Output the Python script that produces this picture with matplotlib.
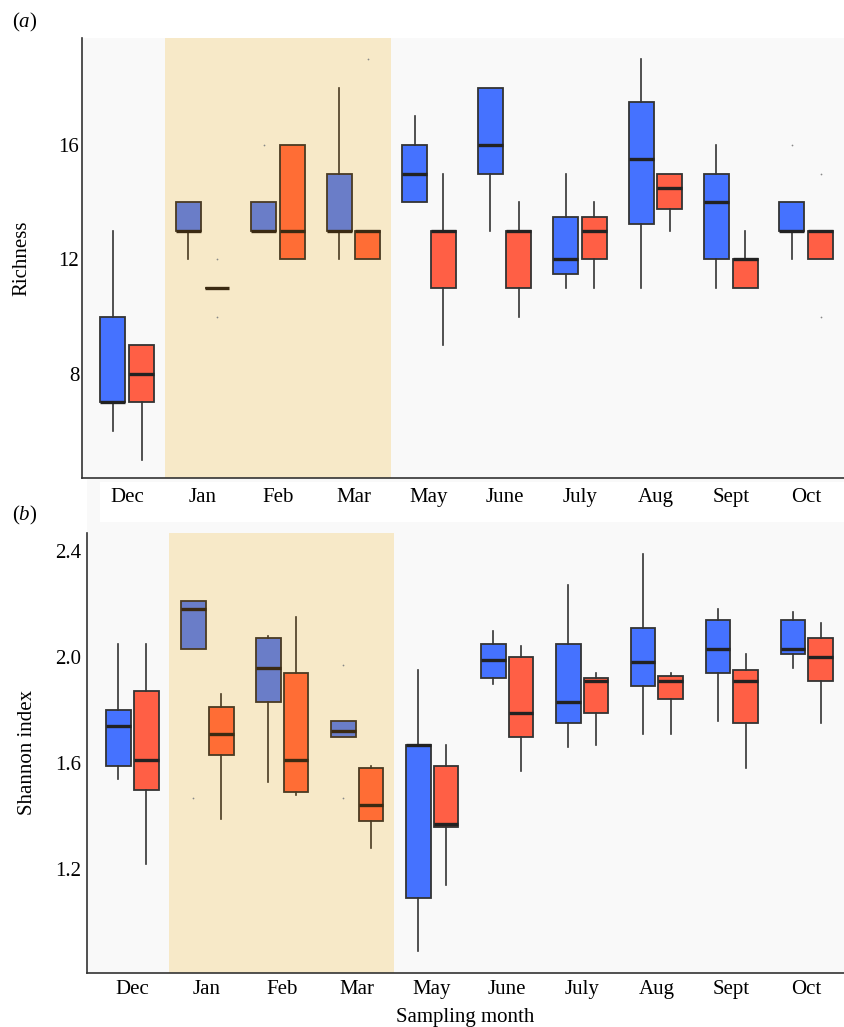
import matplotlib
matplotlib.use('agg')
import matplotlib.pyplot as plt
from matplotlib.patches import Rectangle

plt.rcParams['font.family'] = ['Liberation Serif', 'DejaVu Serif']
plt.rcParams['mathtext.fontset'] = 'custom'
plt.rcParams['mathtext.rm'] = 'Liberation Serif'
plt.rcParams['mathtext.it'] = 'Liberation Serif:italic'

months = ['Dec', 'Jan', 'Feb', 'Mar', 'May', 'June', 'July', 'Aug', 'Sept', 'Oct']

# (a) richness
rich_blue_q1 = [7, 13, 13, 13, 14, 15, 11.5, 13.25, 12, 13]
rich_blue_med = [7, 13, 13, 13, 15, 16, 12, 15.5, 14, 13]
rich_blue_q3 = [10, 14, 14, 15, 16, 18, 13.5, 17.5, 15, 14]
rich_blue_lo = [6, 12, 13, 12, 14, 13, 11, 11, 11, 12]
rich_blue_hi = [13, 14, 14, 18, 17, 18, 15, 19, 16, 14]
rich_blue_out = [[], [], [16], [], [], [], [], [], [], [16]]

rich_red_q1 = [7, 11, 12, 12, 11, 11, 12, 13.75, 11, 12]
rich_red_med = [8, 11, 13, 13, 13, 13, 13, 14.5, 12, 13]
rich_red_q3 = [9, 11, 16, 13, 13, 13, 13.5, 15, 12, 13]
rich_red_lo = [5, 11, 12, 12, 9, 10, 11, 13, 11, 12]
rich_red_hi = [9, 11, 16, 13, 15, 14, 14, 15, 13, 13]
rich_red_out = [[], [12, 10], [], [19], [], [], [], [], [], [15, 10]]

# (b) shannon index
sh_blue_q1 = [1.59, 2.03, 1.83, 1.70, 1.09, 1.92, 1.75, 1.89, 1.94, 2.01]
sh_blue_med = [1.74, 2.18, 1.96, 1.72, 1.67, 1.99, 1.83, 1.98, 2.03, 2.03]
sh_blue_q3 = [1.80, 2.21, 2.07, 1.76, 1.67, 2.05, 2.05, 2.11, 2.14, 2.14]
sh_blue_lo = [1.54, 2.03, 1.53, 1.70, 0.89, 1.90, 1.66, 1.71, 1.76, 1.96]
sh_blue_hi = [2.05, 2.21, 2.08, 1.76, 1.95, 2.10, 2.27, 2.39, 2.18, 2.17]
sh_blue_out = [[], [1.47], [], [1.97, 1.47], [], [], [], [], [], []]

sh_red_q1 = [1.50, 1.63, 1.49, 1.38, 1.36, 1.70, 1.79, 1.84, 1.75, 1.91]
sh_red_med = [1.61, 1.71, 1.61, 1.44, 1.37, 1.79, 1.91, 1.91, 1.91, 2.00]
sh_red_q3 = [1.87, 1.81, 1.94, 1.58, 1.59, 2.00, 1.92, 1.93, 1.95, 2.07]
sh_red_lo = [1.22, 1.39, 1.48, 1.28, 1.14, 1.57, 1.67, 1.71, 1.58, 1.75]
sh_red_hi = [2.05, 1.86, 2.15, 1.59, 1.67, 2.04, 1.94, 1.94, 2.01, 2.13]
sh_red_out = [[], [], [], [], [], [], [], [], [], []]

winter = (0.5, 3.5)   # shaded months Jan-Mar


def make_stats(q1, med, q3, lo, hi, out):
    return [dict(q1=a, med=b, q3=c, whislo=d, whishi=e, fliers=f)
            for a, b, c, d, e, f in zip(q1, med, q3, lo, hi, out)]


def draw_group(ax, stats, offset, col, col_shade):
    pos = [i + offset for i in range(len(stats))]
    bp = ax.bxp(stats, positions=pos, widths=0.33, patch_artist=True,
                showcaps=False, manage_ticks=False,
                boxprops=dict(linewidth=1.3),
                whiskerprops=dict(linewidth=1.2),
                medianprops=dict(color='#222222', linewidth=2.4, solid_capstyle='butt'),
                flierprops=dict(marker='.', markersize=2.5, markeredgewidth=0))
    for i, box in enumerate(bp['boxes']):
        inside = winter[0] < i < winter[1]
        box.set_facecolor(col_shade if inside else col)
        box.set_edgecolor('#4a3a22' if inside else '#333333')
    for i, w in enumerate(bp['whiskers']):
        inside = winter[0] < i // 2 < winter[1]
        w.set_color('#4a3a22' if inside else '#333333')
    for i, m in enumerate(bp['medians']):
        if winter[0] < i < winter[1]:
            m.set_color('#3b2a12')
    for f in bp['fliers']:
        f.set_markerfacecolor('#888888')


def style_axes(ax, ylim, yticks, ylabel, tickpad_x, tickpad_y):
    ax.set_facecolor('#f9f9f9')
    ax.axvspan(winter[0], winter[1], color='#f7e9c8', zorder=0, lw=0)
    ax.set_xlim(-0.6, 9.5)
    ax.set_ylim(*ylim)
    ax.set_xticks(range(len(months)))
    ax.set_xticklabels(months)
    ax.set_yticks(yticks)
    ax.tick_params(axis='both', length=0, labelsize=15)
    ax.tick_params(axis='x', pad=tickpad_x)
    ax.tick_params(axis='y', pad=tickpad_y)
    for s in ['top', 'right']:
        ax.spines[s].set_visible(False)
    for s in ['left', 'bottom']:
        ax.spines[s].set_color('#333333')
        ax.spines[s].set_linewidth(1.2)
    ax.set_ylabel(ylabel, fontsize=15)
    ax.yaxis.set_label_coords(-0.066, 0.5)


W, H = 844, 1027
fig = plt.figure(figsize=(W / 100, H / 100), dpi=100)

# faint strip behind the month labels of panel (a)
fig.add_artist(Rectangle((87 / W, 1 - 533 / H), 1, 55 / H, transform=fig.transFigure,
                         color='#f9f9f9', lw=0, zorder=-2))
fig.add_artist(Rectangle((100 / W, 1 - 522 / H), 1, 40 / H, transform=fig.transFigure,
                         color='white', lw=0, zorder=-1))

ax1 = fig.add_axes([82 / W, 1 - 478 / H, 1 - 82 / W, 440 / H])
ax2 = fig.add_axes([87 / W, 1 - 972.7 / H, 1 - 87 / W, 439.7 / H])

style_axes(ax1, (4.36, 19.74), [8, 12, 16], 'Richness', 7, 2)
draw_group(ax1, make_stats(rich_blue_q1, rich_blue_med, rich_blue_q3, rich_blue_lo,
                           rich_blue_hi, rich_blue_out), -0.19, '#4572ff', '#6a7dc8')
draw_group(ax1, make_stats(rich_red_q1, rich_red_med, rich_red_q3, rich_red_lo,
                           rich_red_hi, rich_red_out), 0.19, '#ff5f45', '#ff6d35')

style_axes(ax2, (0.809, 2.468), [1.2, 1.6, 2.0, 2.4], 'Shannon index', 5, 4)
ax2.set_yticklabels(['1.2', '1.6', '2.0', '2.4'])
draw_group(ax2, make_stats(sh_blue_q1, sh_blue_med, sh_blue_q3, sh_blue_lo,
                           sh_blue_hi, sh_blue_out), -0.18, '#4572ff', '#6a7dc8')
draw_group(ax2, make_stats(sh_red_q1, sh_red_med, sh_red_q3, sh_red_lo,
                           sh_red_hi, sh_red_out), 0.19, '#ff5f45', '#ff6d35')
ax2.set_xlabel('Sampling month', fontsize=15, labelpad=7)

fig.text(12 / W, 1 - 22 / H, '($\\it{a}$)', fontsize=15, va='center')
fig.text(12 / W, 1 - 515 / H, '($\\it{b}$)', fontsize=15, va='center')

fig.savefig('out.png', dpi=100)
